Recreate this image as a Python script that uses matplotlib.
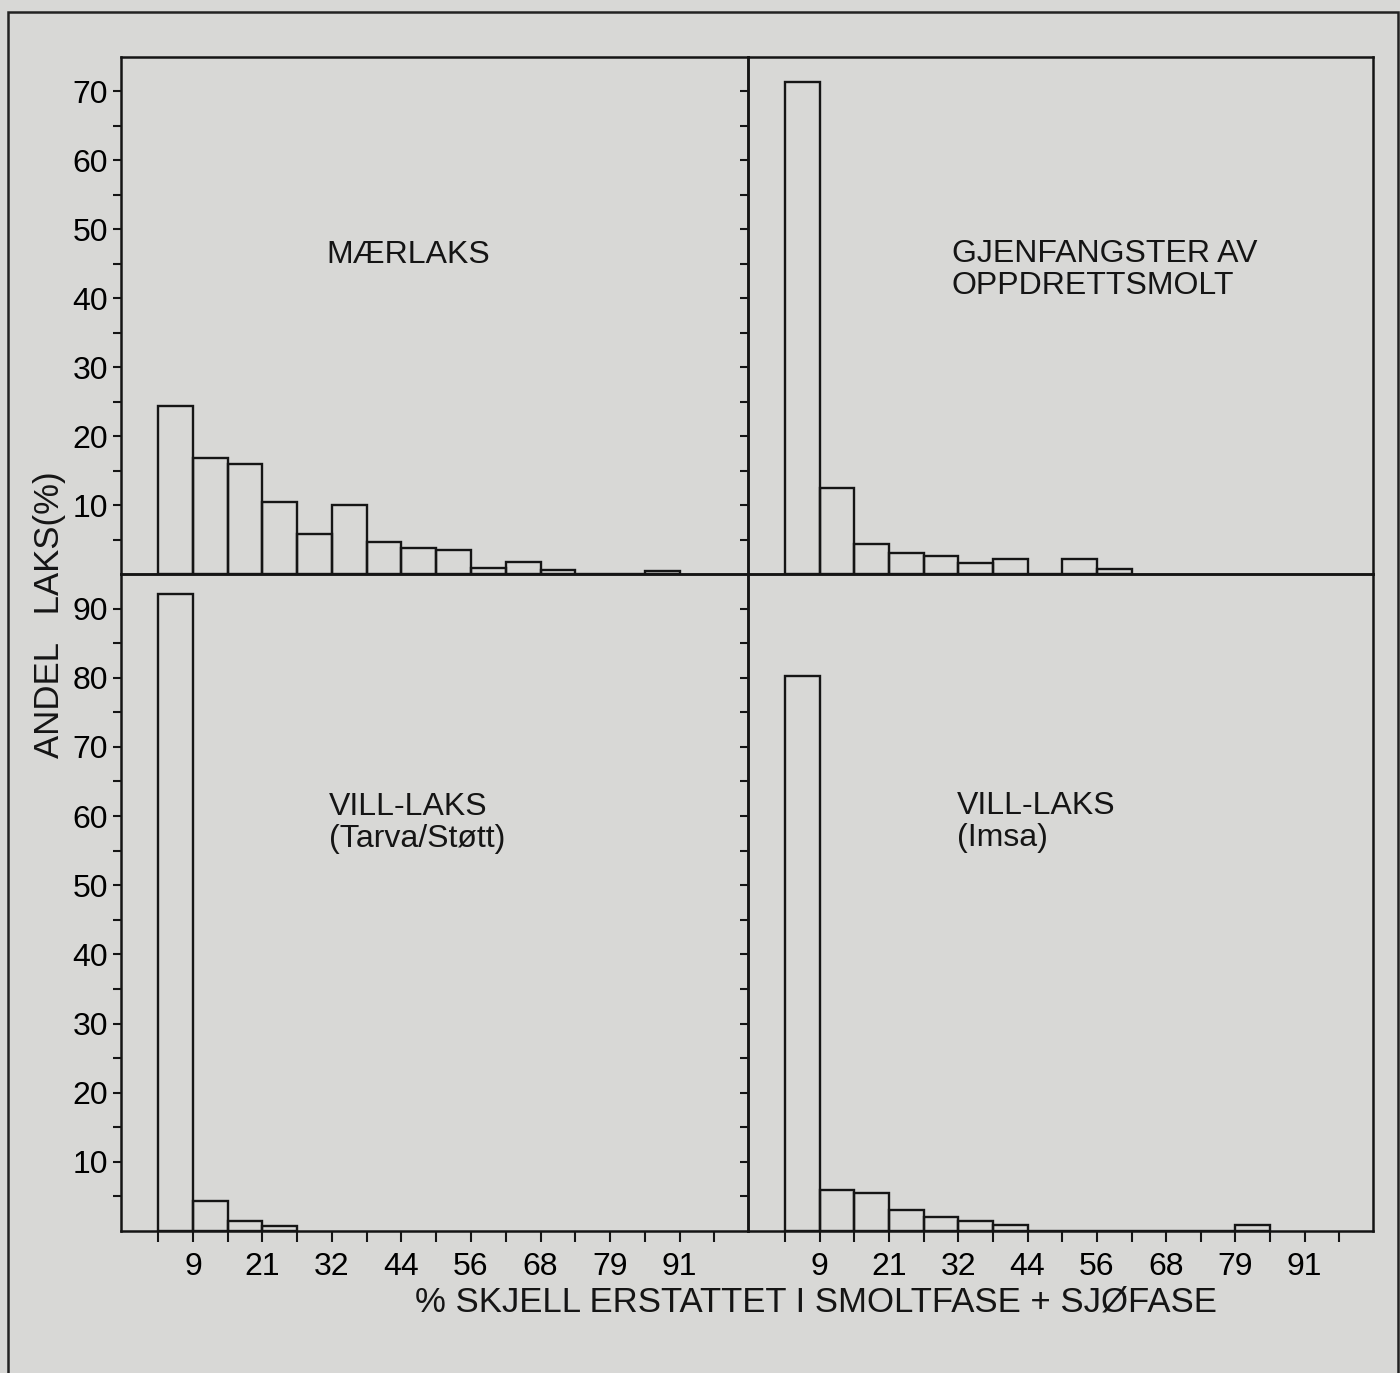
import numpy as np
import matplotlib.pyplot as plt
from matplotlib.patches import Rectangle
from matplotlib.ticker import FixedLocator

plt.rcParams['font.family'] = ['Liberation Sans', 'DejaVu Sans']

# share of fish (%) per class of replaced scales, one bar per class
tick_edges = [1, 3, 5, 7, 9, 11, 13, 15]
tick_labels = ['9', '21', '32', '44', '56', '68', '79', '91']

maerlaks = [24.4, 16.9, 16.0, 10.4, 5.8, 10.0, 4.6, 3.8, 3.5, 0.9, 1.8, 0.6, 0, 0, 0.5]
gjenfangst = [71.4, 12.5, 4.4, 3.0, 2.6, 1.6, 2.2, 0, 2.2, 0.7]
vill_tarva = [92.1, 4.4, 1.4, 0.7]
vill_imsa = [80.3, 6.0, 5.5, 3.0, 2.0, 1.4, 0.9, 0, 0, 0, 0, 0, 0, 0.8]

titles = ['MÆRLAKS', 'GJENFANGSTER AV\nOPPDRETTSMOLT',
          'VILL-LAKS\n(Tarva/Støtt)', 'VILL-LAKS\n(Imsa)']

bg = '#d8d8d6'
ink = '#151515'
W, H = 1400, 1373
fig = plt.figure(figsize=(14, 13.73), dpi=100, facecolor=bg)

def px_axes(x0, y0, x1, y1):
    return fig.add_axes([x0 / W, 1 - y1 / H, (x1 - x0) / W, (y1 - y0) / H])

ax_tl = px_axes(121, 57, 748, 574)
ax_tr = px_axes(748, 57, 1373, 574)
ax_bl = px_axes(121, 574, 748, 1231)
ax_br = px_axes(748, 574, 1373, 1231)

panels = [(ax_tl, maerlaks, 75, (0.3275, 0.617)),
          (ax_tr, gjenfangst, 75, (0.326, 0.588)),
          (ax_bl, vill_tarva, 95, (0.332, 0.621)),
          (ax_br, vill_imsa, 95, (0.334, 0.6225))]

for i, (ax, vals, ytop, pos) in enumerate(panels):
    ax.set_facecolor('none')
    ax.bar(np.arange(len(vals)), vals, width=1, align='edge', fill=False,
           edgecolor=ink, linewidth=1.7)
    ax.set_xlim(-1.07, 16.97)
    ax.set_ylim(0, ytop)
    for s in ax.spines.values():
        s.set_linewidth(1.8)
        s.set_color(ink)
    major = list(range(10, ytop, 10))
    ax.yaxis.set_major_locator(FixedLocator(major))
    ax.yaxis.set_minor_locator(FixedLocator(list(range(5, ytop, 10))))
    ax.tick_params(axis='y', which='both', direction='out', length=5.5,
                   width=1.5, color=ink, labelsize=23, pad=4)
    if i % 2 == 0:
        ax.set_yticklabels([str(v) for v in major])
    else:
        ax.tick_params(axis='y', labelleft=False)
    if i < 2:
        ax.tick_params(axis='x', bottom=False, labelbottom=False)
    else:
        labels = [''] * 17
        for e, t in zip(tick_edges, tick_labels):
            labels[e] = t
        ax.set_xticks(range(17))
        ax.set_xticklabels(labels)
        ax.tick_params(axis='x', direction='out', length=8, width=1.5,
                       color=ink, labelsize=23, pad=7)
    ax.text(pos[0], pos[1], titles[i], transform=ax.transAxes, ha='left',
            va='center', fontsize=23, linespacing=1.1, color=ink)

fig.text(816 / W, 1 - 1302 / H, '% SKJELL ERSTATTET I SMOLTFASE + SJØFASE',
         ha='center', va='center', fontsize=25, color=ink)
fig.text(50 / W, 1 - 615 / H, 'ANDEL   LAKS(%)', rotation=90,
         ha='center', va='center', fontsize=25, color=ink)

fig.patches.append(Rectangle((8 / W, -0.05), (1398 - 8) / W, 1.05 - 12 / H,
                             transform=fig.transFigure, fill=False,
                             edgecolor='#222222', linewidth=1.8))

fig.savefig('out.png', dpi=100, facecolor=bg)
